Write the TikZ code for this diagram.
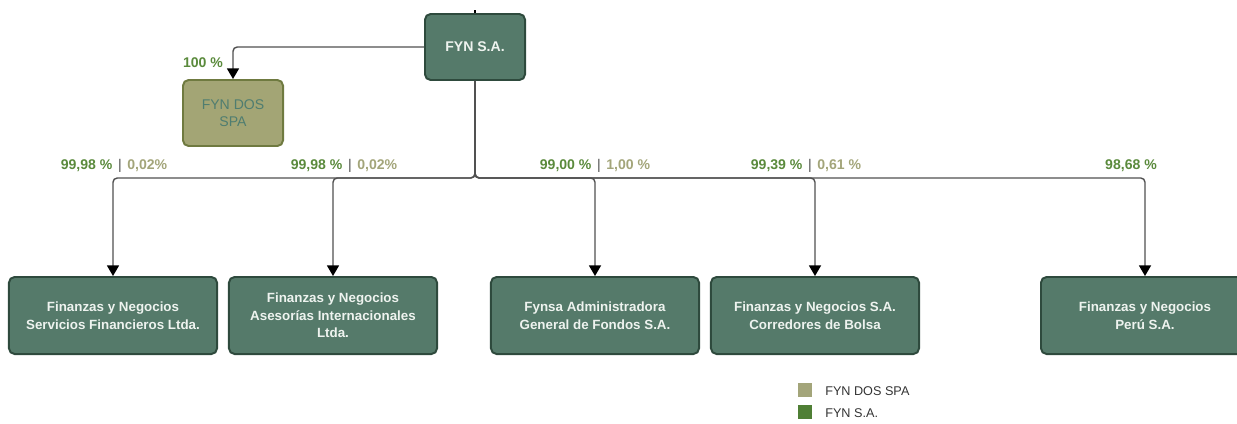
\documentclass[tikz,border=0pt]{standalone}
\usepackage{fontspec}
\setmainfont{Liberation Sans}
\usetikzlibrary{arrows.meta,calc}
\definecolor{boxgreen}{HTML}{557A6A}
\definecolor{boxedge}{HTML}{2E4A3D}
\definecolor{boxtext}{HTML}{EEF3EF}
\definecolor{dosfill}{HTML}{A3A575}
\definecolor{dosedge}{HTML}{6F7A40}
\definecolor{dostext}{HTML}{4F7D70}
\definecolor{fyncol}{HTML}{5A8A3C}
\definecolor{doscol}{HTML}{A3A57A}
\definecolor{fynsq}{HTML}{4F7F35}
\definecolor{linecol}{HTML}{505050}
\newcommand{\pct}[2]{{\color{fyncol}#1}\hspace{0.4em}{\color{linecol}\mdseries|}\hspace{0.4em}{\color{doscol}#2}}

\begin{document}
\begin{tikzpicture}[x=0.025cm,y=-0.025cm,
    unit/.style={draw=boxedge,line width=1.4pt,fill=boxgreen,rounded corners=4pt,
      text=boxtext,font=\bfseries\fontsize{9.5}{12.5}\selectfont,align=center,
      minimum width=5.2cm,minimum height=1.925cm,inner sep=2pt},
    head/.style={unit,minimum width=2.5cm,minimum height=1.65cm,font=\bfseries\fontsize{10}{12}\selectfont},
    dos/.style={head,draw=dosedge,fill=dosfill,text=dostext,font=\fontsize{10}{12}\selectfont},
    link/.style={draw=linecol,line width=1pt,rounded corners=3pt,
      -{Triangle[length=7.5pt,width=8.5pt,color=black]}},
    pctlabel/.style={font=\bfseries\fontsize{10}{12}\selectfont,inner sep=0pt},
    legsq/.style={minimum size=0.35cm,inner sep=0pt},
    legtxt/.style={anchor=west,inner sep=0pt,text=black!80,font=\fontsize{9}{11}\selectfont}]
  \useasboundingbox (0,0) rectangle (1237,423);
  % holding and companies
  \node[head](fyn)at(475,47){FYN S.A.};
  \node[dos](fyndos)at(233,113){FYN DOS\\SPA};
  \node[unit](sf)at(113,315.5){Finanzas y Negocios\\Servicios Financieros Ltda.};
  \node[unit](ai)at(333,315.5){Finanzas y Negocios\\Asesorías Internacionales\\Ltda.};
  \node[unit](agf)at(595,315.5){Fynsa Administradora\\General de Fondos S.A.};
  \node[unit](cb)at(815,315.5){Finanzas y Negocios S.A.\\Corredores de Bolsa};
  \node[unit](peru)at(1145,315.5){Finanzas y Negocios\\Perú S.A.};
  \coordinate(bus)at(475,178);
  \draw[black,line width=1pt](fyn.north)--++(0,-3);
  \draw[link](fyn.west)-|(fyndos.north);
  \foreach \c in {sf,ai,agf,cb,peru}
    \draw[link](fyn.south)--(bus)-|(\c.north);
  % ownership
  \node[pctlabel,text=fyncol](l0)at(203,63){100 \%};
  \node[pctlabel](l1)at(114,166){\pct{99,98 \%}{0,02\%}};
  \node[pctlabel](l2)at(344,166){\pct{99,98 \%}{0,02\%}};
  \node[pctlabel](l3)at(595,166){\pct{99,00 \%}{1,00 \%}};
  \node[pctlabel](l4)at(806,166){\pct{99,39 \%}{0,61 \%}};
  \node[pctlabel,text=fyncol](l5)at(1131,166){98,68 \%};
  % legend
  \node[legsq,fill=doscol](k1)at(805,390){};
  \node[legtxt](t1)at(825,391){FYN DOS SPA};
  \node[legsq,fill=fynsq](k2)at(805,412){};
  \node[legtxt](t2)at(825,413){FYN S.A.};
\end{tikzpicture}
\end{document}
